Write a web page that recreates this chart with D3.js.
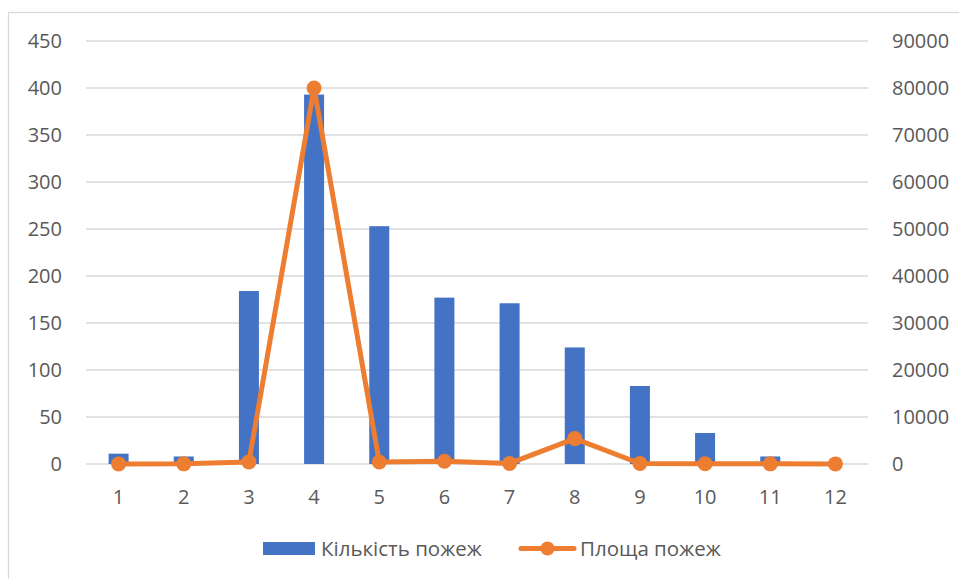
<!DOCTYPE html>
<html>
<head>
<meta charset="utf-8">
<script src="https://cdn.jsdelivr.net/npm/d3@7"></script>
<style>
html,body{margin:0;padding:0;background:#fff;}
svg text{font-family:"Open Sans",sans-serif;fill:#595959;}
</style>
</head>
<body>
<svg id="chart" width="959" height="579"></svg>
<script>
const categories = ["1","2","3","4","5","6","7","8","9","10","11","12"];
const fireCount = [11, 8, 184, 393, 253, 177, 171, 124, 83, 33, 8, 0];
const fireArea = [20, 30, 450, 80000, 430, 570, 120, 5400, 100, 50, 30, 20];
const leftTicks = [0, 50, 100, 150, 200, 250, 300, 350, 400, 450];
const rightTicks = [0, 10000, 20000, 30000, 40000, 50000, 60000, 70000, 80000, 90000];
const seriesNames = ["Кількість пожеж", "Площа пожеж"];

const svg = d3.select("#chart");
const plot = {left: 86, right: 868, top: 41, bottom: 464};
const fontSize = 20;

// border
svg.append("rect").attr("x", 8.5).attr("y", 12.5).attr("width", 1000).attr("height", 1000)
  .attr("fill", "none").attr("stroke", "#d9d9d9").attr("stroke-width", 1.3);

const x = d3.scaleBand().domain(categories).range([plot.left, plot.right]).paddingInner(0).paddingOuter(0);
const yL = d3.scaleLinear().domain([0, 450]).range([plot.bottom, plot.top]);
const yR = d3.scaleLinear().domain([0, 90000]).range([plot.bottom, plot.top]);

// gridlines
svg.append("g").selectAll("line").data(leftTicks).join("line")
  .attr("x1", plot.left).attr("x2", plot.right)
  .attr("y1", d => yL(d)).attr("y2", d => yL(d))
  .attr("stroke", "#d9d9d9").attr("stroke-width", 1.3);

// left axis
const axL = d3.axisLeft(yL).tickValues(leftTicks).tickFormat(d3.format("d")).tickSize(0).tickPadding(0);
const gL = svg.append("g").attr("transform", `translate(62,0)`).call(axL);
gL.select(".domain").remove();
gL.selectAll("text").attr("font-size", fontSize).attr("font-family", "Open Sans").attr("fill", "#595959").attr("dy", "0.33em");

// right axis
const axR = d3.axisRight(yR).tickValues(rightTicks).tickFormat(d3.format("d")).tickSize(0).tickPadding(0);
const gR = svg.append("g").attr("transform", `translate(892,0)`).call(axR);
gR.select(".domain").remove();
gR.selectAll("text").attr("font-size", fontSize).attr("font-family", "Open Sans").attr("fill", "#595959").attr("dy", "0.33em");

// bottom axis
const axB = d3.axisBottom(x).tickSize(0).tickPadding(0);
const gB = svg.append("g").attr("transform", `translate(0,${plot.bottom})`).call(axB);
gB.select(".domain").remove();
gB.selectAll("text").attr("font-size", fontSize).attr("font-family", "Open Sans").attr("fill", "#595959").attr("dy", "0").attr("y", 40);

// bars
const barW = 20;
svg.append("g").selectAll("rect").data(fireCount).join("rect")
  .attr("x", (d, i) => x(categories[i]) + x.bandwidth() / 2 - barW / 2)
  .attr("width", barW)
  .attr("y", d => yL(d))
  .attr("height", d => plot.bottom - yL(d))
  .attr("fill", "#4472C4");

// line
const line = d3.line().x((d, i) => x(categories[i]) + x.bandwidth() / 2).y(d => yR(d));
svg.append("path").datum(fireArea).attr("d", line)
  .attr("fill", "none").attr("stroke", "#ED7D31").attr("stroke-width", 5).attr("stroke-linejoin", "round").attr("stroke-linecap", "round");
svg.append("g").selectAll("circle").data(fireArea).join("circle")
  .attr("cx", (d, i) => x(categories[i]) + x.bandwidth() / 2)
  .attr("cy", d => yR(d)).attr("r", 7.5).attr("fill", "#ED7D31");

// legend
const lg = svg.append("g");
lg.append("rect").attr("x", 263).attr("y", 542).attr("width", 52).attr("height", 13).attr("fill", "#4472C4");
lg.append("text").attr("x", 321).attr("y", 556).attr("font-size", 20.5).text(seriesNames[0]);
lg.append("line").attr("x1", 521).attr("x2", 574).attr("y1", 548.5).attr("y2", 548.5)
  .attr("stroke", "#ED7D31").attr("stroke-width", 5).attr("stroke-linecap", "round");
lg.append("circle").attr("cx", 547.5).attr("cy", 548.5).attr("r", 7).attr("fill", "#ED7D31");
lg.append("text").attr("x", 580).attr("y", 556).attr("font-size", 20.5).text(seriesNames[1]);
</script>
</body>
</html>
